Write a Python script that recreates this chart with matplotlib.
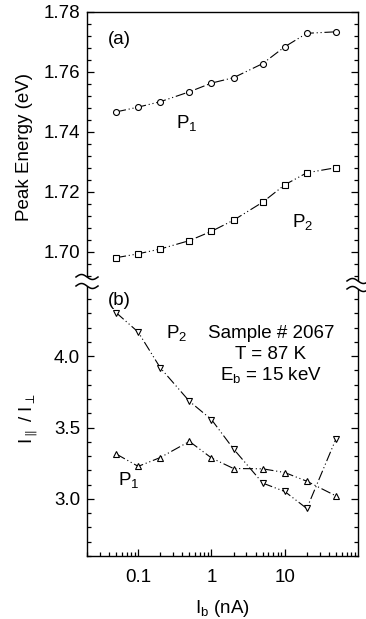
import numpy as np
import matplotlib
matplotlib.use('Agg')
import matplotlib.pyplot as plt
from matplotlib.ticker import FixedLocator, FormatStrFormatter, LogLocator, NullFormatter, FixedFormatter

plt.rcParams['font.family'] = ['Liberation Sans', 'DejaVu Sans']
plt.rcParams['mathtext.fontset'] = 'custom'
plt.rcParams['mathtext.rm'] = 'Liberation Sans'
plt.rcParams['mathtext.it'] = 'Liberation Sans:italic'
plt.rcParams['mathtext.sf'] = 'Liberation Sans'

# ---------------- data ----------------
current_nA = [0.05, 0.1, 0.2, 0.5, 1, 2, 5, 10, 20, 50]
energy_P1 = [1.7467, 1.7483, 1.7501, 1.7534, 1.7563, 1.7581, 1.7628, 1.7684, 1.7729, 1.7734]
energy_P2 = [1.6981, 1.6994, 1.7010, 1.7038, 1.7069, 1.7106, 1.7166, 1.7224, 1.7264, 1.7281]
ratio_P1 = [3.315, 3.228, 3.290, 3.403, 3.287, 3.213, 3.211, 3.185, 3.124, 3.021]
ratio_P2 = [4.305, 4.169, 3.919, 3.684, 3.556, 3.350, 3.111, 3.052, 2.933, 3.420]

energy_major = [1.70, 1.72, 1.74, 1.76, 1.78]
energy_minor = [1.692, 1.696, 1.704, 1.708, 1.712, 1.716, 1.724, 1.728, 1.732, 1.736,
                1.744, 1.748, 1.752, 1.756, 1.764, 1.768, 1.772, 1.776]
ratio_major = [3.0, 3.5, 4.0]
ratio_minor = [2.6, 2.7, 2.8, 2.9, 3.1, 3.2, 3.3, 3.4, 3.6, 3.7, 3.8, 3.9, 4.1, 4.2, 4.3, 4.4, 4.5]
x_major = [0.1, 1, 10]
x_major_labels = ['0.1', '1', '10']

# ---------------- layout ----------------
W, H = 366, 619
fig = plt.figure(figsize=(W / 100, H / 100), dpi=100)


def rect(x0, y0, x1, y1):
    return [x0 / W, 1 - y1 / H, (x1 - x0) / W, (y1 - y0) / H]


ax1 = fig.add_axes(rect(87, 12, 358, 282))
ax2 = fig.add_axes(rect(87, 282, 358, 556))

ls = (0, (9, 2.5, 1, 2.5, 1, 2.5))
common = dict(color='black', lw=0.8, ls=ls, mfc='white', mec='black', mew=0.8)

ax1.plot(current_nA, energy_P1, marker='o', ms=4.3, **common)
ax1.plot(current_nA, energy_P2, marker='s', ms=3.8, **common)
ax2.plot(current_nA, ratio_P2, marker='v', ms=4.8, **common)
ax2.plot(current_nA, ratio_P1, marker='^', ms=4.8, **common)

for ax in (ax1, ax2):
    ax.set_xscale('log')
    ax.set_xlim(0.02, 100)
    for s in ax.spines.values():
        s.set_linewidth(1.0)
    ax.tick_params(axis='both', which='both', direction='in', labelsize=13.5,
                   left=True, right=True, width=0.9)
    ax.tick_params(axis='both', which='major', length=5)
    ax.tick_params(axis='both', which='minor', length=3)
    ax.tick_params(axis='y', pad=5)

ax1.set_ylim(1.69, 1.78)
ax1.spines['bottom'].set_visible(False)
ax1.tick_params(axis='x', which='both', bottom=False, top=False, labelbottom=False)
ax1.yaxis.set_major_locator(FixedLocator(energy_major))
ax1.yaxis.set_minor_locator(FixedLocator(energy_minor))
ax1.yaxis.set_major_formatter(FormatStrFormatter('%.2f'))

ax2.set_ylim(2.6, 4.52)
ax2.spines['top'].set_visible(False)
ax2.tick_params(axis='x', which='both', bottom=True, top=False, pad=9)
ax2.yaxis.set_major_locator(FixedLocator(ratio_major))
ax2.yaxis.set_minor_locator(FixedLocator(ratio_minor))
ax2.yaxis.set_major_formatter(FormatStrFormatter('%.1f'))
ax2.xaxis.set_major_locator(FixedLocator(x_major))
ax2.xaxis.set_major_formatter(FixedFormatter(x_major_labels))
ax2.xaxis.set_minor_locator(LogLocator(base=10, subs=np.arange(2, 10), numticks=20))
ax2.xaxis.set_minor_formatter(NullFormatter())

ax1.set_ylabel('Peak Energy (eV)', fontsize=13.5)
ax1.yaxis.set_label_coords(-0.20, 0.5)
ax2.set_ylabel(r'$\mathregular{I_{\parallel}\ /\ I_{\perp}}$', fontsize=13.5)
ax2.yaxis.set_label_coords(-0.175, 0.5)
ax2.set_xlabel(r'$\mathregular{I_b}$ (nA)', fontsize=13.5)
ax2.xaxis.set_label_coords(0.5, -0.155)

# ---------------- overlay: break marks and annotations ----------------
ov = fig.add_axes([0, 0, 1, 1])
ov.set_xlim(0, W)
ov.set_ylim(H, 0)
ov.axis('off')


def brk(xc, y_up, y_lo):
    t = np.linspace(0, 1, 60)
    xs = xc - 11 + 22 * t
    up = y_up - 2.5 * np.sin(2 * np.pi * t)
    lo = y_lo - 2.5 * np.sin(2 * np.pi * t)
    ov.fill_between(xs, up, lo, color='white', zorder=5, lw=0)
    ov.plot(xs, up, color='black', lw=1.1, zorder=6)
    ov.plot(xs, lo, color='black', lw=1.1, zorder=6)


brk(87, 277, 286)
brk(358, 281, 289)

fs = 13.5
ov.text(119, 44, '(a)', fontsize=fs, ha='center', va='baseline')
ov.text(119, 305, '(b)', fontsize=fs, ha='center', va='baseline')
ov.text(176, 128, r'$\mathregular{P_1}$', fontsize=fs, ha='left', va='baseline')
ov.text(292, 227, r'$\mathregular{P_2}$', fontsize=fs, ha='left', va='baseline')
ov.text(166, 338, r'$\mathregular{P_2}$', fontsize=fs, ha='left', va='baseline')
ov.text(118, 485, r'$\mathregular{P_1}$', fontsize=fs, ha='left', va='baseline')
ov.text(271, 338, 'Sample # 2067', fontsize=fs, ha='center', va='baseline')
ov.text(271, 359, 'T = 87 K', fontsize=fs, ha='center', va='baseline')
ov.text(271, 380, r'$\mathregular{E_b}$ = 15 keV', fontsize=fs, ha='center', va='baseline')

fig.savefig('out.png', dpi=100)
